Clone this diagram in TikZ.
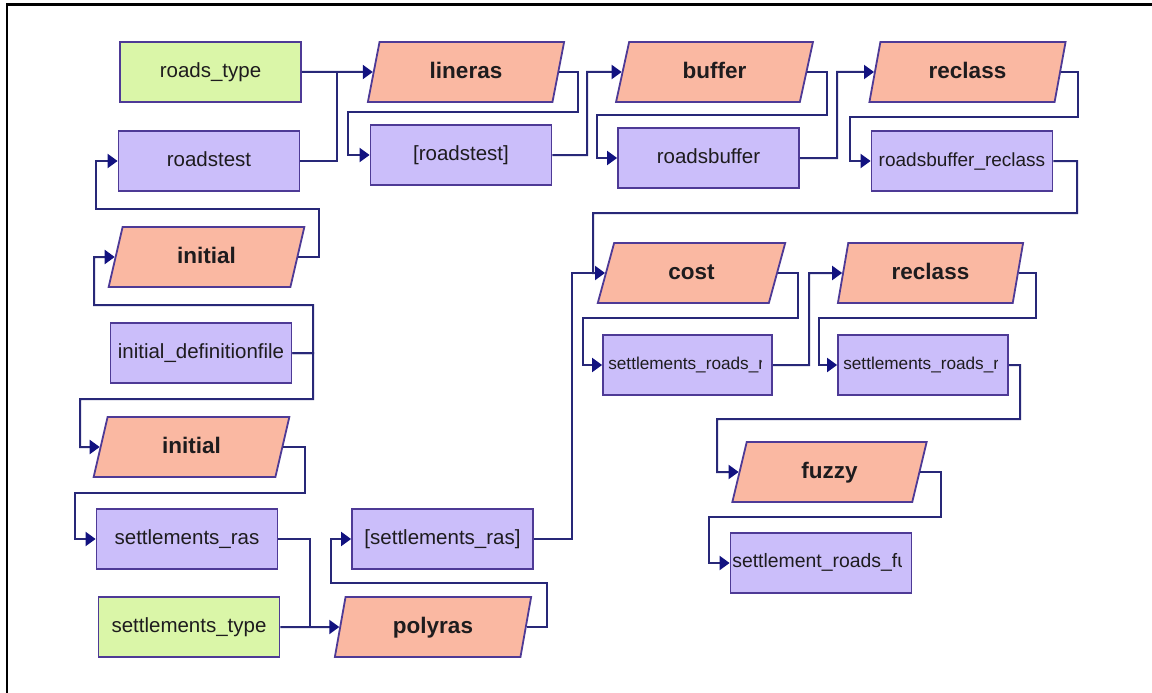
\documentclass[tikz,border=0pt]{standalone}
\usepackage{fontspec}
\setmainfont{Liberation Sans}
\usetikzlibrary{shapes.geometric,arrows.meta,calc}

\definecolor{dataFill}{RGB}{203,190,250}
\definecolor{inputFill}{RGB}{218,246,168}
\definecolor{procFill}{RGB}{250,184,162}
\definecolor{edge}{RGB}{78,58,150}
\definecolor{wireCol}{RGB}{40,40,120}
\definecolor{headCol}{RGB}{18,18,128}
\definecolor{ink}{RGB}{30,28,30}

\begin{document}
\begin{tikzpicture}[x=1pt,y=-1pt,
  box/.style={draw=edge,line width=1.8pt,minimum height=60pt,inner sep=0pt,text=ink},
  data/.style={box,rectangle,fill=dataFill,minimum width=181pt,
    font=\fontsize{20.5}{24}\selectfont,text height=14.8pt,text depth=3pt},
  input/.style={data,fill=inputFill},
  proc/.style={box,trapezium,trapezium left angle=76,trapezium right angle=104,
    trapezium stretches=true,fill=procFill,minimum width=197pt,
    font=\bfseries\fontsize{22.5}{26}\selectfont,text height=16.2pt,text depth=3.4pt},
  small/.style={anchor=west,inner sep=0pt,text=ink,text height=12.4pt,text depth=2.6pt},
  wire/.style={draw=wireCol,line width=2pt},
  link/.style={wire,-{Triangle[length=10pt,width=14pt,color=headCol]}}]

\useasboundingbox (0,0) rectangle (1152,693);
\fill[white] (0,0) rectangle (1152,693);
% outer frame
\draw[line width=2.5pt] (7,693) -- (7,4.3) -- (1152,4.3);

% ---- inputs and data sets
\node[input] (roadstype) at (210.5,72) {roads\_type};
\node[data]  (roadstest) at (209,161) {roadstest};
\node[data]  (initdef) at (201,353) {initial\_definitionfile};
\node[data]  (settras) at (187,539) {settlements\_ras};
\node[input] (setttype) at (189,627) {settlements\_type};
\node[data]  (roadstestB) at (461,155) {[roadstest]};
\node[data]  (roadsbuffer) at (708.5,158) {roadsbuffer};
\node[data,font=\fontsize{19}{22}\selectfont] (rbreclass) at (962,161) {roadsbuffer\_reclass};
\node[data]  (settrasB) at (442.5,539) {[settlements\_ras]};
\node[data,minimum width=169pt] (srA) at (687.5,365) {};
\node[data,minimum width=170pt] (srB) at (923,365) {};
\node[data] (srfu) at (821,563) {};

% truncated labels, clipped inside their boxes
\begin{scope}
  \clip ($(srA.north west)+(2,2)$) rectangle ($(srA.south east)+(-11,-2)$);
  \node[small,font=\fontsize{17.2}{20}\selectfont] (srAlabel) at ($(srA.west)+(6,0)$) {settlements\_roads\_r};
\end{scope}
\begin{scope}
  \clip ($(srB.north west)+(2,2)$) rectangle ($(srB.south east)+(-11,-2)$);
  \node[small,font=\fontsize{17.2}{20}\selectfont] (srBlabel) at ($(srB.west)+(6,0)$) {settlements\_roads\_r};
\end{scope}
\begin{scope}
  \clip ($(srfu.north west)+(2,2)$) rectangle ($(srfu.south east)+(-11,-2)$);
  \node[small,font=\fontsize{19.4}{22}\selectfont] (srfulabel) at ($(srfu.west)+(2.5,0)$) {settlement\_roads\_fu};
\end{scope}

% ---- tools
\node[proc] (lineras) at (466,72) {lineras};
\node[proc] (buffer) at (714.5,72) {buffer};
\node[proc] (reclassA) at (967.5,72) {reclass};
\node[proc] (initialA) at (206.5,257) {initial};
\node[proc] (initialB) at (191.5,447) {initial};
\node[proc] (polyras) at (433,627) {polyras};
\node[proc,minimum width=188pt] (cost) at (691.5,273) {cost};
\node[proc,minimum width=186pt] (reclassB) at (930.5,273) {reclass};
\node[proc,minimum width=195pt] (fuzzy) at (829.5,472) {fuzzy};

% ---- junction points
\coordinate (jRoads) at (337,72);
\coordinate (jSettl) at (310,627);
\coordinate (jCostL) at (572,273);
\coordinate (jCost) at (593,273);

% ---- connectors
\draw[link] (roadstype.east) -- (lineras.west);
\draw[wire] (roadstest.east) -| (jRoads);
\draw[link] (lineras.east) -| (578,112) -| (348,155) -- (roadstestB.west);
\draw[link] (roadstestB.east) -| (587,72) -- (buffer.west);
\draw[link] (buffer.east) -| (827,115) -| (597,158) -- (roadsbuffer.west);
\draw[link] (roadsbuffer.east) -| (837,72) -- (reclassA.west);
\draw[link] (reclassA.east) -| (1078,117) -| (850,161) -- (rbreclass.west);
\draw[link] (rbreclass.east) -| (1077,213) -| (jCost) -- (cost.west);

\draw[link] (initialA.east) -| (319,209) -| (96,161) -- (roadstest.west);
\draw[link] (initdef.east) -| (313,305) -| (94,257) -- (initialA.west);
\draw[link] (initdef.east) -| (313,399) -| (80,447) -- (initialB.west);
\draw[link] (initialB.east) -| (305,493) -| (75,539) -- (settras.west);

\draw[wire] (settras.east) -| (jSettl);
\draw[link] (setttype.east) -- (polyras.west);
\draw[link] (polyras.east) -| (547,583) -| (331,539) -- (settrasB.west);
\draw[wire] (settrasB.east) -| (jCostL) -- (jCost);

\draw[link] (cost.east) -| (798,318) -| (583,365) -- (srA.west);
\draw[link] (srA.east) -| (809,273) -- (reclassB.west);
\draw[link] (reclassB.east) -| (1036,318) -| (819,365) -- (srB.west);
\draw[link] (srB.east) -| (1020,419) -| (717,472) -- (fuzzy.west);
\draw[link] (fuzzy.east) -| (941,517) -| (709,563) -- (srfu.west);
\end{tikzpicture}
\end{document}
